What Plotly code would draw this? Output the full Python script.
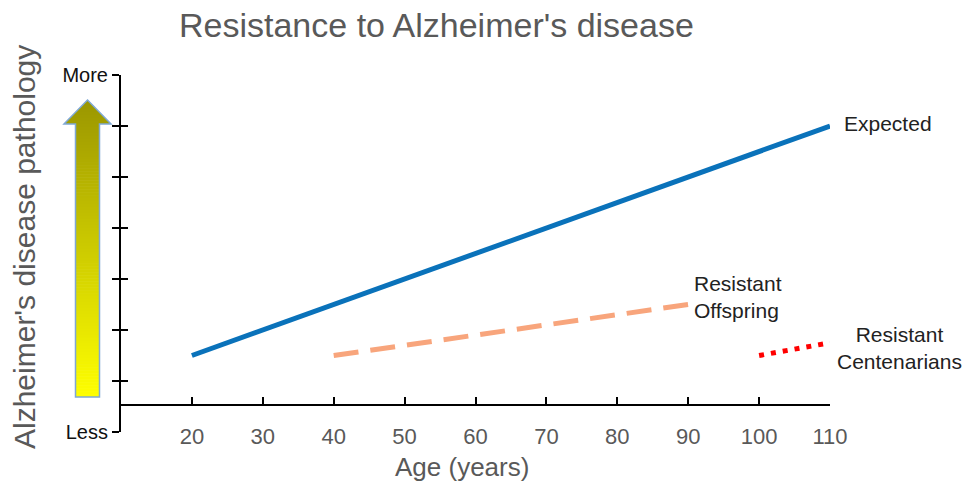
import plotly.graph_objects as go

# ---- data ----
age_expected = [20, 110]
path_expected = [1.5, 6.0]
age_offspring = [40, 90]
path_offspring = [1.5, 2.5]
age_centenarians = [100, 110]
path_centenarians = [1.5, 1.75]

x_ticks = [20, 30, 40, 50, 60, 70, 80, 90, 100, 110]
y_ticks = [0, 1, 2, 3, 4, 5, 6, 7]
y_ticktext = ["Less", "", "", "", "", "", "", "More"]

FONT = "Arial, Liberation Sans, sans-serif"
GREY = "#595959"

W, H = 970, 485
ML, MR, MT, MB = 121, 140, 75, 53
PW = W - ML - MR
PH = H - MT - MB


def px(x):
    return (x - ML) / PW


def py(y):
    return (H - MB - y) / PH


fig = go.Figure()
fig.add_trace(go.Scatter(x=age_expected, y=path_expected, mode="lines",
                         line=dict(color="#0A72BA", width=5), showlegend=False, hoverinfo="skip"))
fig.add_trace(go.Scatter(x=age_offspring, y=path_offspring, mode="lines",
                         line=dict(color="#F8A57C", width=5, dash="25px,12px"), showlegend=False, hoverinfo="skip"))
fig.add_trace(go.Scatter(x=age_centenarians, y=path_centenarians, mode="lines",
                         line=dict(color="#FF0000", width=5, dash="5px,7px"), showlegend=False, hoverinfo="skip"))
# carrier for inner y ticks
fig.add_trace(go.Scatter(x=[None], y=[None], yaxis="y2", showlegend=False, hoverinfo="skip"))

# ---- gradient arrow (styling) ----
top, head_base, bottom = 100, 124, 397
cx, body_half, head_half = 87.5, 12, 23.5
c_top = (154, 150, 0)
c_bot = (255, 255, 0)
shapes = []
N = 100
step = (bottom - top) / N


def half_width(yy):
    if yy >= head_base:
        return body_half
    return head_half * (yy - top) / (head_base - top)


for i in range(N):
    y1 = top + i * step
    y0 = min(bottom, y1 + step + 0.6)
    t = (y1 + step / 2 - top) / (bottom - top)
    col = tuple(int(round(c_top[k] + (c_bot[k] - c_top[k]) * t)) for k in range(3))
    if y1 < head_base < y0:
        pts = [(cx - half_width(y1), y1), (cx + half_width(y1), y1),
               (cx + head_half, head_base), (cx + body_half, head_base),
               (cx + body_half, y0), (cx - body_half, y0),
               (cx - body_half, head_base), (cx - head_half, head_base)]
    else:
        hw1, hw0 = half_width(y1), half_width(y0)
        pts = [(cx - hw1, y1), (cx + hw1, y1), (cx + hw0, y0), (cx - hw0, y0)]
    d = "M " + " L ".join(f"{px(a):.5f},{py(b):.5f}" for a, b in pts) + " Z"
    shapes.append(dict(type="path", xref="paper", yref="paper", path=d,
                       fillcolor=f"rgb{col}", line=dict(width=0), layer="above"))

outline = [(cx, top), (cx + head_half, head_base), (cx + body_half, head_base),
           (cx + body_half, bottom), (cx - body_half, bottom), (cx - body_half, head_base),
           (cx - head_half, head_base)]
shapes.append(dict(type="path", xref="paper", yref="paper",
                   path="M " + " L ".join(f"{px(a):.5f},{py(b):.5f}" for a, b in outline) + " Z",
                   fillcolor="rgba(0,0,0,0)", line=dict(color="#7FA8D4", width=1.5)))

annotations = [
    dict(text="Resistance to Alzheimer's disease", xref="paper", yref="paper",
         x=px(436), y=py(25), xanchor="center", yanchor="middle", showarrow=False,
         font=dict(size=34, color=GREY, family=FONT)),
    dict(text="Age (years)", xref="paper", yref="paper",
         x=px(462), y=py(467), xanchor="center", yanchor="middle", showarrow=False,
         font=dict(size=26, color=GREY, family=FONT)),
    dict(text="Alzheimer's disease pathology", xref="paper", yref="paper",
         x=px(25), y=py(247), xanchor="center", yanchor="middle", showarrow=False,
         textangle=-90, font=dict(size=30, color=GREY, family=FONT)),
    dict(text="Expected", x=110, y=6.05, xref="x", yref="y", xanchor="left", yanchor="middle",
         xshift=12, showarrow=False, font=dict(size=21, color="#222222", family=FONT)),
    dict(text="Resistant<br>Offspring", x=90, y=2.65, xref="x", yref="y", xanchor="left",
         yanchor="middle", xshift=4, align="left", showarrow=False,
         font=dict(size=21, color="#222222", family=FONT)),
    dict(text="Resistant<br>Centenarians", x=110, y=1.65, xref="x", yref="y", xanchor="center",
         yanchor="middle", xshift=69, align="center", showarrow=False,
         font=dict(size=21, color="#222222", family=FONT)),
]

fig.update_layout(
    width=W, height=H, autosize=False,
    margin=dict(l=ML, r=MR, t=MT, b=MB, pad=0),
    paper_bgcolor="white", plot_bgcolor="white",
    showlegend=False,
    shapes=shapes, annotations=annotations,
    xaxis=dict(range=[10, 110], anchor="free", position=(432 - 405) / PH,
               tickvals=x_ticks, ticks="inside", ticklen=7, tickwidth=2, tickcolor="black",
               showline=True, linecolor="black", linewidth=2,
               showgrid=False, zeroline=False, ticklabelstandoff=12,
               tickfont=dict(size=22, color=GREY, family=FONT)),
    yaxis=dict(range=[0, 7], tickvals=y_ticks, ticktext=y_ticktext,
               ticks="outside", ticklen=7, tickwidth=2, tickcolor="black",
               showline=True, linecolor="black", linewidth=2,
               showgrid=False, zeroline=False,
               tickfont=dict(size=20, color="#111111", family=FONT)),
    yaxis2=dict(range=[0, 7], overlaying="y", side="left", anchor="x",
                tickvals=y_ticks, ticks="inside", ticklen=7, tickwidth=2, tickcolor="black",
                showticklabels=False, showline=False, showgrid=False, zeroline=False),
)

fig.write_html("out.html", config={"displayModeBar": False},
               post_script="document.body.style.margin='0px';")
